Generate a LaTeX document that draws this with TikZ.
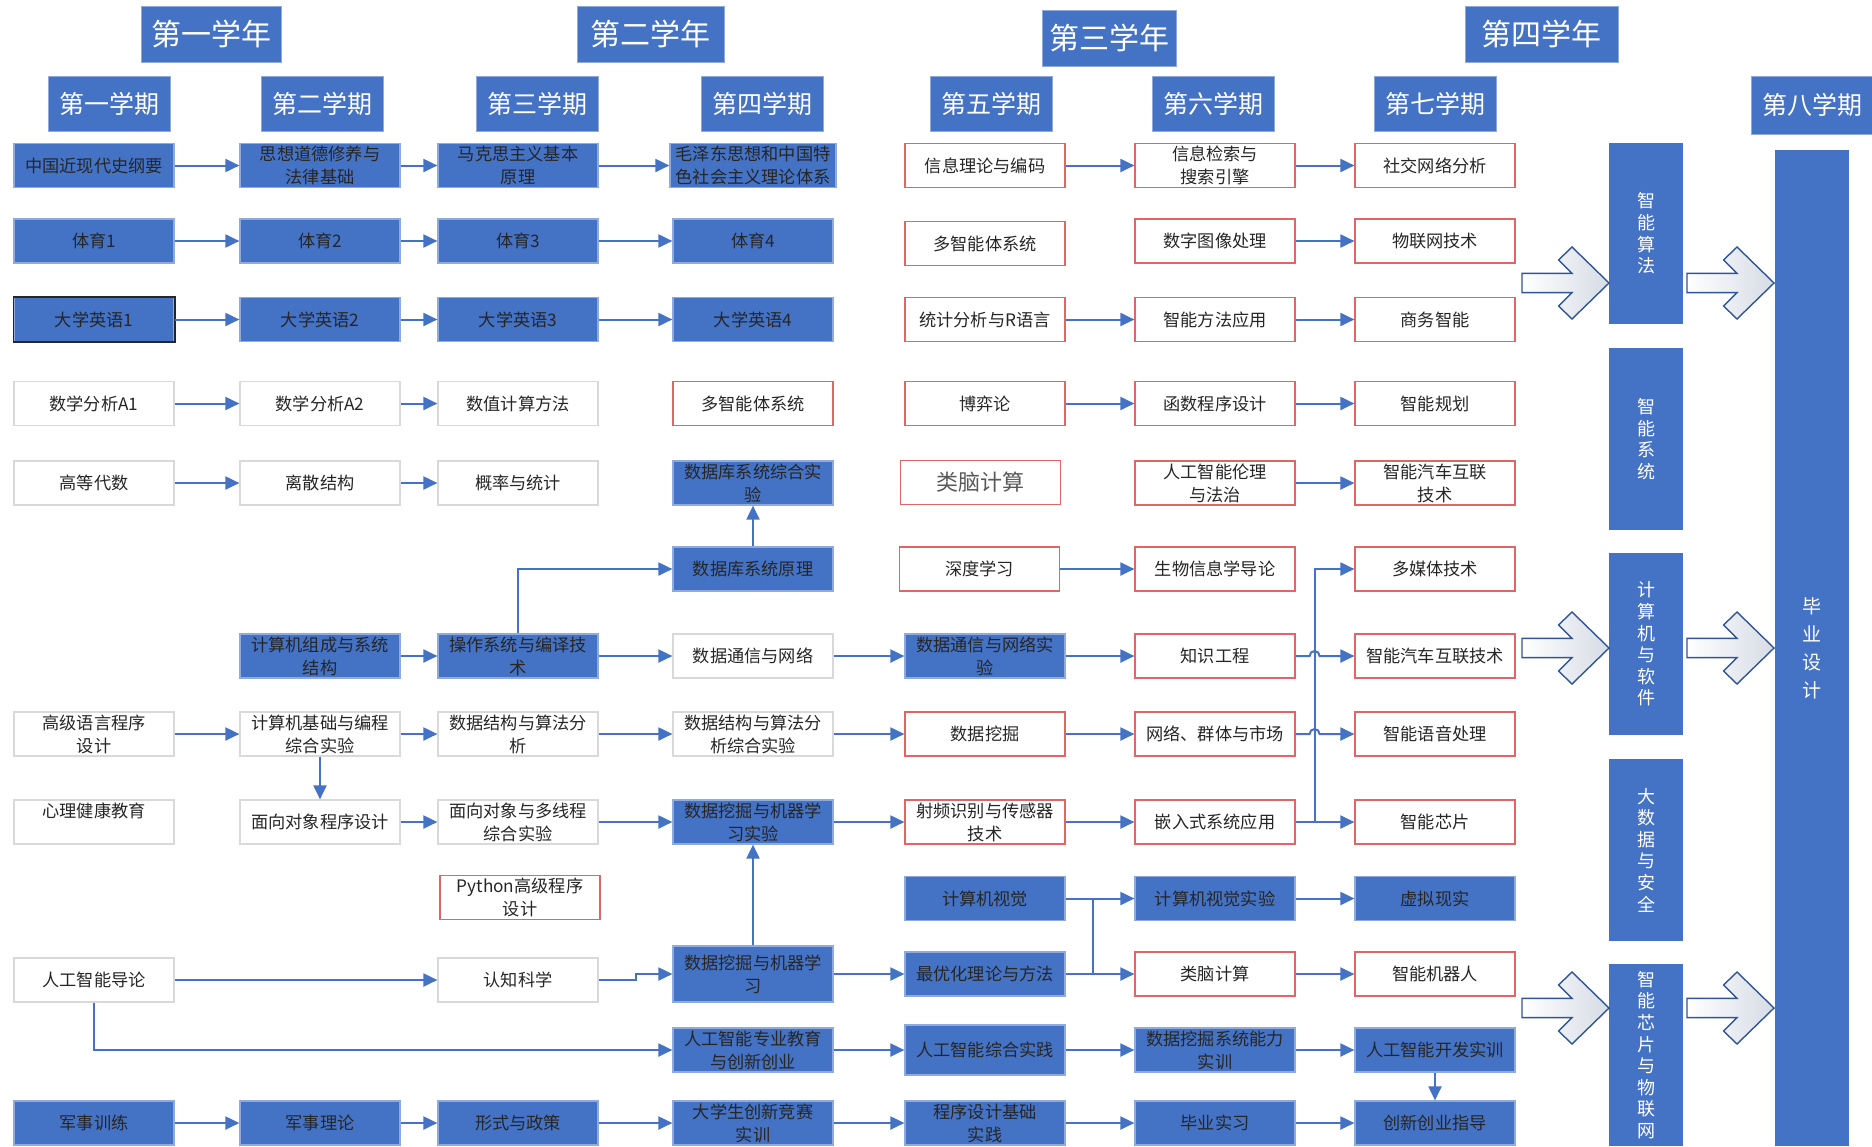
\documentclass[tikz,border=0pt]{standalone}
\usepackage{fontspec}
\newfontfamily\cjkfont{Noto Sans CJK SC}
\usetikzlibrary{arrows.meta}

\definecolor{kblue}{HTML}{4472C4}
\definecolor{kedge}{HTML}{8FAADC}
\definecolor{kred}{HTML}{E06666}
\definecolor{kgray}{HTML}{D9D9D9}
\definecolor{kline}{HTML}{2F5597}
\definecolor{ktext}{HTML}{262626}
\definecolor{kshade}{HTML}{D6DCE5}

\tikzset{
  course/.style={minimum width=80pt, minimum height=22pt, inner sep=1pt, align=center,
    text=ktext, line width=0.6pt, font=\cjkfont\fontsize{8.6}{11.5}\selectfont},
  bluebox/.style={course, fill=kblue, draw=kedge},
  whitebox/.style={course, fill=white, draw=kgray},
  redbox/.style={course, fill=white, draw=kred},
  yearbox/.style={fill=kblue, draw=kedge, text=white, minimum height=28pt, inner sep=0pt,
    font=\cjkfont\fontsize{15}{18}\selectfont},
  termbox/.style={fill=kblue, draw=kedge, text=white, minimum width=61pt, minimum height=27.5pt,
    inner sep=0pt, font=\cjkfont\fontsize{12.5}{15}\selectfont},
  trackbar/.style={fill=kblue, text=white, minimum width=37pt, minimum height=91pt, inner sep=0pt,
    align=center, font=\cjkfont\fontsize{9}{10.8}\selectfont},
  flow/.style={draw=kblue, line width=1pt, -{Triangle[length=7pt,width=6.5pt]}},
  link/.style={draw=kblue, line width=1pt},
  bigarrow/.style={draw=kline, line width=0.7pt, left color=white, right color=kshade},
}

\begin{document}
\begin{tikzpicture}[x=0.5pt, y=-0.5pt]
    \useasboundingbox (0,0) rectangle (1872,1146);

    % 学年
    \node[yearbox, minimum width=70pt] (year1) at (211,34) {第一学年};
    \node[yearbox, minimum width=73.5pt] (year2) at (650.5,34) {第二学年};
    \node[yearbox, minimum width=67pt] (year3) at (1109,38) {第三学年};
    \node[yearbox, minimum width=76.5pt] (year4) at (1541.5,34) {第四学年};

    % 学期
    \foreach \term/\x [count=\i] in {第一学期/109, 第二学期/322, 第三学期/537.5, 第四学期/762.5,
        第五学期/991, 第六学期/1213, 第七学期/1435.5} {
        \node[termbox] (term\i) at (\x,103.5) {\term};
    }
    \node[termbox, minimum height=29pt] (term8) at (1812,105) {第八学期};

    % 第四学年的方向
    \node[trackbar, minimum height=90.5pt] (suanfa) at (1646,233.5) {智\\能\\算\\法};
    \node[trackbar] (xitong) at (1646,439) {智\\能\\系\\统};
    \node[trackbar] (ruanjian) at (1646,644) {计\\算\\机\\与\\软\\件};
    \node[trackbar] (anquan) at (1646,850) {大\\数\\据\\与\\安\\全};
    \node[trackbar] (wulianwang) at (1646,1055) {智\\能\\芯\\片\\与\\物\\联\\网};
    \node[trackbar, minimum height=498pt, font=\cjkfont\fontsize{9.5}{14}\selectfont] (biye) at (1811.5,648) {毕\\业\\设\\计};

    % 空心大箭头
    \foreach \yc in {283,648,1008} {
        \foreach \xl in {1522,1687} {
            \draw[bigarrow] (\xl,\yc-9.6) -- (\xl+50,\yc-9.6) -- (\xl+36.5,\yc-23) -- (\xl+50,\yc-36)
                -- (\xl+87,\yc) -- (\xl+50,\yc+36) -- (\xl+36.5,\yc+23) -- (\xl+50,\yc+9.6)
                -- (\xl,\yc+9.6) -- cycle;
        }
    }

    % 第一行
    \node[bluebox] (gang) at (94,165.5) {中国近现代史纲要};
    \node[bluebox] (sixiu) at (320,165.5) {思想道德修养与\\法律基础};
    \node[bluebox] (makesi) at (518,165.5) {马克思主义基本\\原理};
    \node[bluebox, minimum width=83pt] (maogai) at (753,165.5) {毛泽东思想和中国特\\色社会主义理论体系};
    \node[redbox] (xinxilun) at (985,165.5) {信息理论与编码};
    \node[redbox] (jiansuo) at (1215,165.5) {信息检索与\\搜索引擎};
    \node[redbox] (shejiao) at (1435,165.5) {社交网络分析};

    % 体育与英语
    \foreach \n/\x in {1/94, 2/320, 3/518, 4/753} {
        \node[bluebox] (ty\n) at (\x,241) {体育\n};
        \node[bluebox] (yy\n) at (\x,319.5) {大学英语\n};
    }
    \draw[black!85, line width=0.9pt] (yy1.north west) rectangle (yy1.south east);
    \node[redbox] (duozhi1) at (985,243.5) {多智能体系统};
    \node[redbox] (tuxiang) at (1215,241) {数字图像处理};
    \node[redbox] (wulian) at (1435,241) {物联网技术};
    \node[redbox] (tongji) at (985,319.5) {统计分析与R语言};
    \node[redbox] (fangfa) at (1215,319.5) {智能方法应用};
    \node[redbox] (shangwu) at (1435,319.5) {商务智能};

    % 数学
    \node[whitebox] (sx1) at (94,403.5) {数学分析A1};
    \node[whitebox] (sx2) at (320,403.5) {数学分析A2};
    \node[whitebox] (shuzhi) at (518,403.5) {数值计算方法};
    \node[redbox] (duozhi2) at (753,403.5) {多智能体系统};
    \node[redbox] (boyi) at (985,403.5) {博弈论};
    \node[redbox] (hanshu) at (1215,403.5) {函数程序设计};
    \node[redbox] (guihua) at (1435,403.5) {智能规划};

    \node[whitebox] (gaodai) at (94,483) {高等代数};
    \node[whitebox] (lisan) at (320,483) {离散结构};
    \node[whitebox] (gailv) at (518,483) {概率与统计};
    \node[bluebox] (dbshiyan) at (753,483) {数据库系统综合实\\验};
    \node[redbox, text=black!65, font=\cjkfont\fontsize{11}{13}\selectfont] (leinao1) at (980.3,482.5) {类脑计算};
    \node[redbox] (lunli) at (1215,483) {人工智能伦理\\与法治};
    \node[redbox] (qiche1) at (1435,483) {智能汽车互联\\技术};

    % 计算机类
    \node[bluebox] (dbyuanli) at (753,569) {数据库系统原理};
    \node[redbox] (shendu) at (979.5,569) {深度学习};
    \node[redbox] (shengxin) at (1215,569) {生物信息学导论};
    \node[redbox] (duomeiti) at (1435,569) {多媒体技术};

    \node[bluebox] (zucheng) at (320,656) {计算机组成与系统\\结构};
    \node[bluebox] (caozuo) at (518,656) {操作系统与编译技\\术};
    \node[whitebox] (tongxin) at (753,656) {数据通信与网络};
    \node[bluebox] (tongxinsy) at (985,656) {数据通信与网络实\\验};
    \node[redbox] (zhishi) at (1215,656) {知识工程};
    \node[redbox] (qiche2) at (1435,656) {智能汽车互联技术};

    \node[whitebox] (gaoji) at (94,734) {高级语言程序\\设计};
    \node[whitebox] (jichu) at (320,734) {计算机基础与编程\\综合实验};
    \node[whitebox] (shujie) at (518,734) {数据结构与算法分\\析};
    \node[whitebox] (shujiesy) at (753,734) {数据结构与算法分\\析综合实验};
    \node[redbox] (wajue) at (985,734) {数据挖掘};
    \node[redbox] (qunti) at (1215,734) {网络、群体与市场};
    \node[redbox] (yuyin) at (1435,734) {智能语音处理};

    \node[whitebox] (xinli) at (94,822) {心理健康教育\\\mbox{}};
    \node[whitebox] (mianxiang) at (320,822) {面向对象程序设计};
    \node[whitebox] (duoxiancheng) at (518,822) {面向对象与多线程\\综合实验};
    \node[bluebox] (jiqisy) at (753,822) {数据挖掘与机器学\\习实验};
    \node[redbox] (shepin) at (985,822) {射频识别与传感器\\技术};
    \node[redbox] (qianru) at (1215,822) {嵌入式系统应用};
    \node[redbox] (xinpian) at (1435,822) {智能芯片};

    \node[redbox] (python) at (520,897.5) {Python高级程序\\设计};
    \node[bluebox] (shijue) at (985,898.5) {计算机视觉};
    \node[bluebox] (shijuesy) at (1215,898.5) {计算机视觉实验};
    \node[bluebox] (xuni) at (1435,898.5) {虚拟现实};

    % 人工智能类
    \node[whitebox] (daolun) at (94,980) {人工智能导论};
    \node[whitebox] (renzhi) at (518,980) {认知科学};
    \node[bluebox, minimum height=28pt] (jiqi) at (753,974) {数据挖掘与机器学\\习};
    \node[bluebox] (zuiyou) at (985,974) {最优化理论与方法};
    \node[redbox] (leinao2) at (1215,974) {类脑计算};
    \node[redbox] (jiqiren) at (1435,974) {智能机器人};

    \node[bluebox] (zhuanye) at (753,1050) {人工智能专业教育\\与创新创业};
    \node[bluebox, minimum height=25pt] (zonghe) at (985,1050) {人工智能综合实践};
    \node[bluebox] (shixun) at (1215,1050) {数据挖掘系统能力\\实训};
    \node[bluebox] (kaifa) at (1435,1050) {人工智能开发实训};

    % 实践类
    \node[bluebox] (junxun) at (94,1123) {军事训练};
    \node[bluebox] (junli) at (320,1123) {军事理论};
    \node[bluebox] (xingshi) at (518,1123) {形式与政策};
    \node[bluebox] (jingsai) at (753,1123) {大学生创新竞赛\\实训};
    \node[bluebox] (chengxu) at (985,1123) {程序设计基础\\实践};
    \node[bluebox] (shixi) at (1215,1123) {毕业实习};
    \node[bluebox] (chuangye) at (1435,1123) {创新创业指导};

    % 横向箭头
    \foreach \a/\b in {gang/sixiu, sixiu/makesi, makesi/maogai, xinxilun/jiansuo, jiansuo/shejiao,
        ty1/ty2, ty2/ty3, ty3/ty4, tuxiang/wulian,
        yy1/yy2, yy2/yy3, yy3/yy4, tongji/fangfa, fangfa/shangwu,
        sx1/sx2, sx2/shuzhi, boyi/hanshu, hanshu/guihua,
        gaodai/lisan, lisan/gailv, lunli/qiche1,
        shendu/shengxin,
        zucheng/caozuo, caozuo/tongxin, tongxin/tongxinsy, tongxinsy/zhishi,
        gaoji/jichu, jichu/shujie, shujie/shujiesy, shujiesy/wajue, wajue/qunti,
        mianxiang/duoxiancheng, duoxiancheng/jiqisy, jiqisy/shepin, shepin/qianru, qianru/xinpian,
        shijue/shijuesy, shijuesy/xuni,
        daolun/renzhi, jiqi/zuiyou, zuiyou/leinao2, leinao2/jiqiren,
        zhuanye/zonghe, zonghe/shixun, shixun/kaifa,
        junxun/junli, junli/xingshi, xingshi/jingsai, jingsai/chengxu, chengxu/shixi, shixi/chuangye} {
        \draw[flow] (\a.east) -- (\b.west);
    }

    % 纵向与折线箭头
    \draw[flow] (dbyuanli.north) -- (dbshiyan.south);
    \draw[flow] (caozuo.north) |- (dbyuanli.west);
    \draw[flow] (jichu.south) -- (mianxiang.north);
    \draw[flow] (jiqi.north) -- (jiqisy.south);
    \draw[flow] (renzhi.east) -- ++(37,0) |- (jiqi.west);
    \draw[flow] (daolun.south) |- (zhuanye.west);
    \draw[flow] (kaifa.south) -- (chuangye.north);
    \draw[flow] (qianru.east) -- ++(19,0) |- (duomeiti.west);

    % 跨线
    \draw[flow] (zhishi.east) -- ++(14,0) arc[start angle=180, end angle=0, radius=2.5pt] -- (qiche2.west);
    \draw[flow] (qunti.east) -- ++(14,0) arc[start angle=180, end angle=0, radius=2.5pt] -- (yuyin.west);

    % 视觉与优化的连线
    \coordinate (shijuejoin) at (1093,898.5);
    \draw[link] (shijuejoin) -- (shijuejoin |- zuiyou.east);
\end{tikzpicture}
\end{document}
